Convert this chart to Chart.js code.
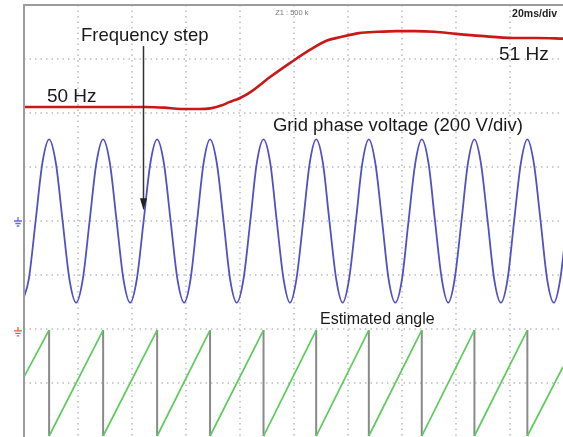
<!DOCTYPE html>
<html>
<head>
<meta charset="utf-8">
<script src="https://cdn.jsdelivr.net/npm/chart.js@4.4.1/dist/chart.umd.min.js"></script>
<style>
  html, body { margin: 0; padding: 0; background: #fff; }
  #wrap { width: 563px; height: 437px; }
</style>
</head>
<body>
<div id="wrap"><canvas id="scope" width="563" height="437"></canvas></div>
<script>
// Zeitachse: 20 ms/div, 10 div sichtbar
const gridTimes = [20, 40, 60, 80, 100, 120, 140, 160, 180];
// Spannung: 200 V/div, 8 div
const gridVolts = [-600, -400, -200, 0, 200, 400, 600];

// Frequenz (Hz)
const freqTimes = [0, 28, 45, 52, 58, 65, 69, 73, 76, 80, 84, 91, 99, 106, 112, 117, 124, 131, 138, 145, 152, 160, 169, 181, 190, 200];
const freqValues = [50.00, 50.00, 50.00, 49.99, 49.97, 49.97, 49.98, 50.02, 50.07, 50.13, 50.22, 50.43, 50.65, 50.83, 50.96, 51.01, 51.07, 51.09, 51.10, 51.10, 51.09, 51.06, 51.03, 51.00, 51.00, 50.99];

// Netzspannung (V): Minima, Nulldurchgaenge, Maxima und Zwischenpunkte
const voltTimes = [
  -0.7, 1.8, 4.3, 6.8, 9.3, 11.8, 14.3, 16.8,
  19.3, 21.8, 24.3, 26.8, 29.3, 31.8, 34.3, 36.8,
  39.3, 41.8, 44.3, 46.8, 49.3, 51.8, 54.3, 56.8,
  59.3, 61.7, 64.1, 66.5, 68.9, 71.4, 73.9, 76.3,
  78.8, 81.3, 83.8, 86.2, 88.7, 91.2, 93.6, 96.1,
  98.5, 100.9, 103.4, 105.8, 108.2, 110.7, 113.1, 115.6,
  118.0, 120.4, 122.9, 125.3, 127.7, 130.1, 132.6, 135.0,
  137.5, 140.0, 142.4, 144.9, 147.3, 149.8, 152.2, 154.7,
  157.1, 159.5, 162.0, 164.4, 166.8, 169.2, 171.7, 174.1,
  176.6, 179.1, 181.5, 184.0, 186.4, 188.8, 191.3, 193.7,
  196.2, 198.6, 201.1
];
const voltValues = [
  -302, -214, 0, 214, 302, 214, 0, -214,
  -302, -214, 0, 214, 302, 214, 0, -214,
  -302, -214, 0, 214, 302, 214, 0, -214,
  -302, -214, 0, 214, 302, 214, 0, -214,
  -302, -214, 0, 214, 302, 214, 0, -214,
  -302, -214, 0, 214, 302, 214, 0, -214,
  -302, -214, 0, 214, 302, 214, 0, -214,
  -302, -214, 0, 214, 302, 214, 0, -214,
  -302, -214, 0, 214, 302, 214, 0, -214,
  -302, -214, 0, 214, 302, 214, 0, -214,
  -302, -214, 0
];

// Geschaetzter Winkel (rad): Ruecksetzzeitpunkte
const resetTimes = [9.3, 29.3, 49.3, 68.9, 88.7, 108.2, 127.7, 147.3, 166.8, 186.4];
const angleFirst = 3.5;   // Wert am linken Rand
const angleLast = 4.1;    // Wert am rechten Rand
const angleFull = 6.283;
const timeEnd = 199.6;

// Beschriftungen (t in ms, v in V-Rasterkoordinaten)
const labels = [
  { text: 'Frequency step', t: 21.1, v: 667, font: '18.5px "Liberation Sans", Arial, sans-serif', color: '#1a1a1a', align: 'left' },
  { text: '50 Hz', t: 8.5, v: 441, font: '19px "Liberation Sans", Arial, sans-serif', color: '#1a1a1a', align: 'left' },
  { text: '51 Hz', t: 175.9, v: 596, font: '19px "Liberation Sans", Arial, sans-serif', color: '#1a1a1a', align: 'left' },
  { text: 'Grid phase voltage (200 V/div)', t: 92.2, v: 333, font: '18.5px "Liberation Sans", Arial, sans-serif', color: '#1a1a1a', align: 'left' },
  { text: 'Estimated angle', t: 109.6, v: -381, font: '16px "Liberation Sans", Arial, sans-serif', color: '#1a1a1a', align: 'left' },
  { text: '20ms/div', t: 197.4, v: 756, font: 'bold 10.5px "Liberation Sans", Arial, sans-serif', color: '#222', align: 'right' },
  { text: 'Z1 : 500 k', t: 93.0, v: 763, font: '7.5px "Liberation Sans", Arial, sans-serif', color: '#777', align: 'left' }
];

// Rampen und Ruecksprungkanten aufbauen
const rampData = [{ x: 0, y: angleFirst }, { x: resetTimes[0], y: angleFull }, { x: resetTimes[0], y: null }];
for (let i = 0; i < resetTimes.length; i++) {
  const next = i + 1 < resetTimes.length ? resetTimes[i + 1] : null;
  rampData.push({ x: resetTimes[i], y: 0 });
  if (next !== null) {
    rampData.push({ x: next, y: angleFull }, { x: next, y: null });
  } else {
    rampData.push({ x: timeEnd, y: angleLast });
  }
}
const dropData = [];
resetTimes.forEach(t => {
  dropData.push({ x: t, y: angleFull }, { x: t, y: 0 }, { x: t, y: null });
});

const freqData = freqTimes.map((t, i) => ({ x: t, y: freqValues[i] }));
const voltData = voltTimes.map((t, i) => ({ x: t, y: voltValues[i] }));

function groundMark(ctx, x, y, color) {
  ctx.save();
  ctx.strokeStyle = color;
  ctx.lineWidth = 1.3;
  ctx.beginPath();
  ctx.moveTo(x, y - 4); ctx.lineTo(x, y);
  ctx.moveTo(x - 4, y); ctx.lineTo(x + 4, y);
  ctx.moveTo(x - 2.7, y + 2.5); ctx.lineTo(x + 2.7, y + 2.5);
  ctx.moveTo(x - 1.3, y + 5); ctx.lineTo(x + 1.3, y + 5);
  ctx.stroke();
  ctx.restore();
}

const scopeDecor = {
  id: 'scopeDecor',
  beforeDatasetsDraw(chart) {
    const { ctx, chartArea: a, scales } = chart;
    const xs = scales.x, yv = scales.yVolt;
    ctx.save();
    ctx.strokeStyle = '#bcbcbc';
    ctx.lineWidth = 1.5;
    ctx.setLineDash([1.5, 4]);
    gridTimes.forEach(t => {
      const px = Math.round(xs.getPixelForValue(t));
      ctx.beginPath(); ctx.moveTo(px, a.top); ctx.lineTo(px, a.bottom); ctx.stroke();
    });
    gridVolts.forEach(v => {
      const py = Math.round(yv.getPixelForValue(v));
      ctx.beginPath(); ctx.moveTo(a.left, py); ctx.lineTo(a.right, py); ctx.stroke();
    });
    ctx.restore();
  },
  afterDraw(chart) {
    const { ctx, chartArea: a, scales } = chart;
    const xs = scales.x, yv = scales.yVolt;

    // Rahmen oben und links
    ctx.save();
    ctx.strokeStyle = '#9c9c9c';
    ctx.lineWidth = 2;
    ctx.beginPath();
    ctx.moveTo(a.left, a.bottom); ctx.lineTo(a.left, a.top); ctx.lineTo(a.right, a.top);
    ctx.stroke();
    ctx.restore();

    // Texte
    ctx.save();
    ctx.textBaseline = 'alphabetic';
    labels.forEach(l => {
      ctx.font = l.font;
      ctx.fillStyle = l.color;
      ctx.textAlign = l.align;
      ctx.fillText(l.text, xs.getPixelForValue(l.t), yv.getPixelForValue(l.v));
    });
    ctx.restore();

    // Pfeil "Frequency step"
    const ax = Math.round(xs.getPixelForValue(44.1)) + 0.5;
    const ay0 = yv.getPixelForValue(648);
    const ay1 = yv.getPixelForValue(40);
    ctx.save();
    ctx.strokeStyle = '#333';
    ctx.fillStyle = '#222';
    ctx.lineWidth = 1.5;
    ctx.beginPath(); ctx.moveTo(ax, ay0); ctx.lineTo(ax, ay1 - 10); ctx.stroke();
    ctx.beginPath();
    ctx.moveTo(ax - 3.5, ay1 - 12); ctx.lineTo(ax + 3.5, ay1 - 12); ctx.lineTo(ax, ay1);
    ctx.closePath(); ctx.fill();
    ctx.restore();

    // Massesymbole der Kanaele
    groundMark(ctx, 18, yv.getPixelForValue(0), '#6a6ae0');
    groundMark(ctx, 18, yv.getPixelForValue(-407), '#e85a5a');
  }
};

new Chart(document.getElementById('scope'), {
  type: 'line',
  data: {
    datasets: [
      {
        label: 'Frequency',
        data: freqData,
        yAxisID: 'yFreq',
        borderColor: '#c81818',
        borderWidth: 2.6,
        pointRadius: 0,
        cubicInterpolationMode: 'monotone',
        order: 1
      },
      {
        label: 'Grid phase voltage',
        data: voltData,
        yAxisID: 'yVolt',
        borderColor: '#5050c8',
        borderWidth: 1.8,
        pointRadius: 0,
        cubicInterpolationMode: 'monotone',
        order: 2
      },
      {
        label: 'Estimated angle',
        data: rampData,
        yAxisID: 'yAngle',
        borderColor: '#5ccc5c',
        borderWidth: 1.7,
        pointRadius: 0,
        spanGaps: false,
        order: 3
      },
      {
        label: 'Reset',
        data: dropData,
        yAxisID: 'yAngle',
        borderColor: '#8a8a8a',
        borderWidth: 2,
        pointRadius: 0,
        spanGaps: false,
        order: 4
      }
    ]
  },
  options: {
    responsive: false,
    animation: false,
    devicePixelRatio: 1,
    layout: { padding: { left: 24, top: 5, right: 0, bottom: 0 } },
    plugins: { legend: { display: false }, tooltip: { enabled: false } },
    scales: {
      x: { type: 'linear', min: 0, max: timeEnd, display: false },
      yVolt: { type: 'linear', min: -800, max: 800, display: false },
      yFreq: { type: 'linear', min: 45.217, max: 51.478, display: false },
      yAngle: { type: 'linear', min: -0.059, max: 25.55, display: false }
    }
  },
  plugins: [scopeDecor]
});
</script>
</body>
</html>
